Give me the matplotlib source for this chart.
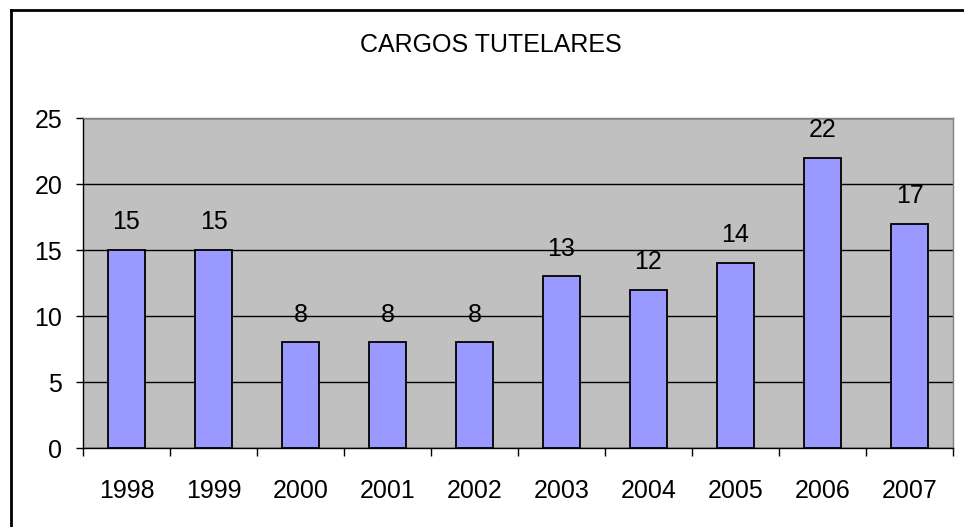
import numpy as np
import matplotlib.pyplot as plt
from matplotlib.lines import Line2D

plt.rcParams['font.family'] = ['Liberation Sans', 'DejaVu Sans']

# data
years = ['1998', '1999', '2000', '2001', '2002', '2003', '2004', '2005', '2006', '2007']
cargos = [15, 15, 8, 8, 8, 13, 12, 14, 22, 17]
y_ticks = [0, 5, 10, 15, 20, 25]

W, H = 964, 527
fig = plt.figure(figsize=(W / 100, H / 100), dpi=100)
fig.patch.set_facecolor('white')

# plot area in pixels
left, right, top, bottom = 83, 953, 118, 448
ax = fig.add_axes([left / W, (H - bottom) / H, (right - left) / W, (bottom - top) / H])
ax.set_facecolor('#C0C0C0')

x = np.arange(len(years))
ax.bar(x, cargos, width=0.42, color='#9999FF', edgecolor='black', linewidth=1.3, zorder=3)

for xi, v in zip(x, cargos):
    ax.annotate(str(v), (xi, v), xytext=(0, 20), textcoords='offset points',
                ha='center', va='center', fontsize=18, zorder=4)

ax.set_xlim(-0.5, len(years) - 0.5)
ax.set_ylim(0, 25)
ax.set_yticks(y_ticks)
ax.yaxis.grid(True, color='black', linewidth=1)
ax.set_axisbelow(True)

# ticks at category boundaries, labels at centers
ax.set_xticks(np.arange(len(years) + 1) - 0.5)
ax.set_xticklabels([])
ax.set_xticks(x, minor=True)
ax.set_xticklabels(years, minor=True)
ax.tick_params(axis='x', which='major', length=6, width=1, direction='out')
ax.tick_params(axis='x', which='minor', length=0, pad=22, labelsize=18)
ax.tick_params(axis='y', length=5, width=1, pad=10, labelsize=18)

for s in ['top', 'right']:
    ax.spines[s].set_color('#808080')
    ax.spines[s].set_linewidth(1)
for s in ['left', 'bottom']:
    ax.spines[s].set_color('black')
    ax.spines[s].set_linewidth(1)

fig.text(491 / W, 1 - 45 / H, 'CARGOS TUTELARES', ha='center', va='center', fontsize=18)

# outer frame (only left and top visible in the crop)
fig.add_artist(Line2D([11 / W, 11 / W], [0, 1 - 10 / H], color='black', linewidth=2, transform=fig.transFigure))
fig.add_artist(Line2D([11 / W, 1], [1 - 10 / H, 1 - 10 / H], color='black', linewidth=2, transform=fig.transFigure))

fig.savefig('out.png', dpi=100)
